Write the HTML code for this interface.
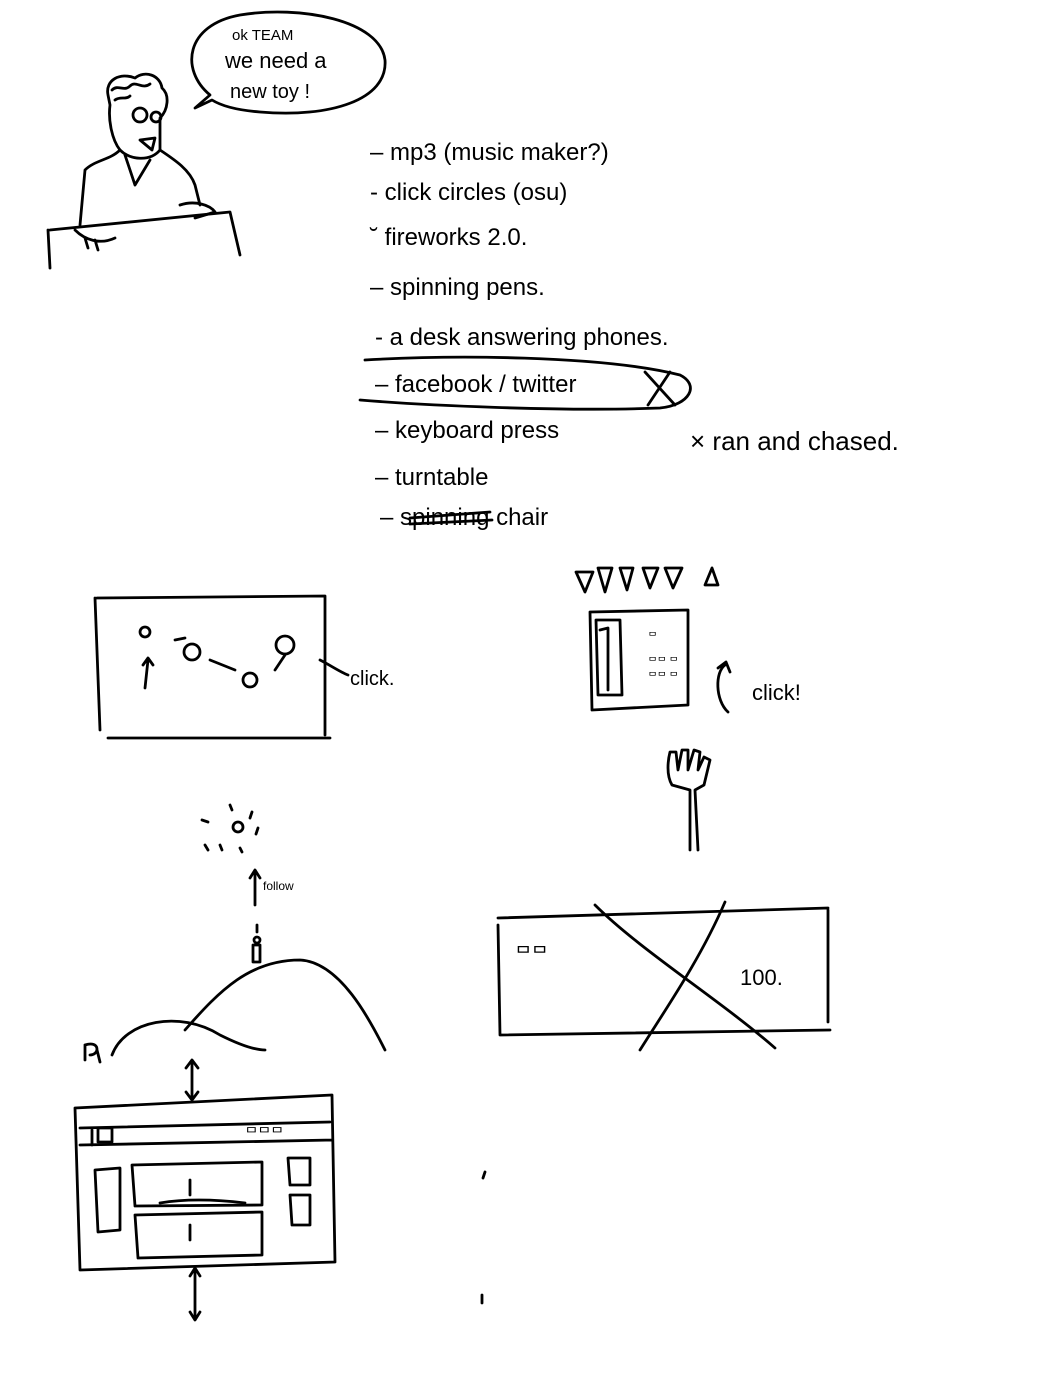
<!DOCTYPE html>
<html><head><meta charset="utf-8"><style>
html,body{margin:0;padding:0;background:#fff;}
svg{display:block}
text{font-family:"Liberation Sans",sans-serif;fill:#000;}
</style></head><body>
<svg width="1052" height="1400" viewBox="0 0 1052 1400" xmlns="http://www.w3.org/2000/svg" fill="none" stroke="#000" stroke-width="2.8" stroke-linecap="round" stroke-linejoin="round">
<!-- speech bubble -->
<path d="M210,95 C180,70 185,25 240,15 C300,5 380,20 385,60 C388,100 330,118 260,112 C235,110 220,105 212,100 L195,108 Z"/>
<text x="232" y="40" font-size="15" stroke="none">ok TEAM</text>
<text x="225" y="68" font-size="22" stroke="none">we need a</text>
<text x="230" y="98" font-size="20" stroke="none">new toy !</text>
<!-- character -->
<path d="M108,95 C105,80 120,72 135,78 C145,70 160,75 162,88 C170,95 168,110 160,118 L160,150 C150,162 130,160 120,150 C112,140 108,120 110,105 Z"/>
<path d="M112,90 C118,84 124,92 130,86 C136,80 142,90 150,84 M115,100 C120,96 126,100 130,96"/>
<circle cx="140" cy="115" r="7"/><circle cx="156" cy="117" r="5"/>
<path d="M140,140 L155,138 L152,150 Z"/>
<path d="M120,150 C110,160 95,160 85,170 L80,225"/>
<path d="M160,150 C175,160 190,170 195,185 L200,205"/>
<path d="M125,155 L135,185 L150,160"/>
<path d="M50,230 L230,212 L240,255"/>
<path d="M48,230 L50,268"/>
<path d="M180,205 C195,200 210,205 215,212 L195,218"/>
<path d="M75,230 C85,240 100,245 115,238 M85,238 L88,248 M95,240 L98,250"/>
<!-- list -->
<g stroke="none" font-size="24">
<text x="370" y="160">– mp3 (music maker?)</text>
<text x="370" y="200">- click circles (osu)</text>
<text x="370" y="245">˘ fireworks 2.0.</text>
<text x="370" y="295">– spinning pens.</text>
<text x="375" y="345">- a desk answering phones.</text>
<text x="375" y="392">– facebook / twitter</text>
<text x="375" y="438">– keyboard press</text>
<text x="375" y="485">– turntable</text>
<text x="380" y="525">–        spinning chair</text>
<text x="690" y="450" font-size="26">× ran and chased.</text>
</g>
<path d="M645,372 L675,405 M670,372 L648,405"/>
<path d="M410,518 L490,512 M410,524 L492,520"/>
<path d="M365,360 C450,355 600,355 680,375 C700,385 690,405 660,408 C560,412 420,405 360,400"/>
<!-- box 1 -->
<path d="M97,598 L325,596 L325,735 M95,598 L100,730 M108,738 L330,738"/>
<circle cx="145" cy="632" r="5"/><circle cx="192" cy="652" r="8"/><circle cx="250" cy="680" r="7"/><circle cx="285" cy="645" r="9"/>
<path d="M145,688 L148,660 M143,665 L148,658 L153,665 M175,640 L185,638 M210,660 L235,670 M275,670 L285,655"/>
<path d="M320,660 C330,665 340,672 348,675"/>
<text x="350" y="685" font-size="20" stroke="none">click.</text>
<!-- triangles -->
<path d="M576,572 L593,572 L585,592 Z M598,568 L612,568 L605,592 Z M620,568 L633,568 L627,590 Z M643,568 L658,568 L650,588 Z M665,568 L682,568 L673,588 Z M705,585 L718,585 L712,568 Z"/>
<!-- phone -->
<path d="M590,612 L688,610 L688,705 L592,710 Z M596,620 L620,620 L622,695 L598,695 Z"/>
<path d="M600,630 L608,628 L608,690"/>
<text x="648" y="640" font-size="10" stroke="none">ᄆ</text>
<text x="648" y="665" font-size="10" stroke="none">ᄆᄆ ᄆ</text>
<text x="648" y="680" font-size="10" stroke="none">ᄆᄆ ᄆ</text>
<path d="M725,665 C715,672 715,700 728,712 M718,668 L726,662 L730,672"/>
<text x="752" y="700" font-size="22" stroke="none">click!</text>
<!-- hand -->
<path d="M690,850 L690,790 L672,785 C666,775 668,760 670,752 L676,752 L678,770 L682,750 L688,750 L688,770 L694,750 L700,752 L698,770 L704,757 L710,760 L704,785 L695,790 L698,850"/>
<!-- sun + arrow -->
<circle cx="238" cy="827" r="5"/>
<path d="M230,805 L232,810 M252,812 L250,818 M258,828 L256,834 M202,820 L208,822 M205,845 L208,850 M220,845 L222,850 M240,848 L242,852"/>
<path d="M255,905 L255,870 M250,878 L255,870 L260,878"/>
<text x="263" y="890" font-size="12" stroke="none">follow</text>
<circle cx="257" cy="940" r="3"/><path d="M253,945 L253,962 L260,962 L260,945 Z M257,925 L257,932"/>
<!-- hills -->
<path d="M112,1055 C125,1020 180,1010 220,1035 C240,1045 255,1050 265,1050"/>
<path d="M185,1030 C220,990 250,960 300,960 C340,962 370,1020 385,1050"/>
<path d="M85,1045 L85,1060 M85,1045 C100,1040 100,1055 90,1055 M97,1050 L100,1062"/>
<!-- X box -->
<path d="M498,918 L828,908 M498,925 L500,1035 L830,1030 M828,910 L828,1022"/>
<path d="M595,905 C640,950 720,1000 775,1048 M725,902 C700,960 665,1010 640,1050"/>
<text x="515" y="960" font-size="18" stroke="none">ᄆᄆ</text>
<text x="740" y="985" font-size="22" stroke="none">100.</text>
<!-- web layout -->
<path d="M192,1060 L192,1100 M186,1068 L192,1060 L198,1068 M186,1092 L192,1100 L198,1092"/>
<path d="M75,1108 L332,1095 L335,1262 L80,1270 Z M80,1145 L332,1140 M80,1128 L330,1122"/>
<path d="M92,1130 L92,1145 M98,1128 L112,1128 L112,1142 L98,1142 Z"/>
<text x="245" y="1138" font-size="14" stroke="none">ᄆᄆᄆ</text>
<path d="M95,1170 L120,1168 L120,1230 L98,1232 Z M288,1158 L310,1158 L310,1185 L290,1185 Z M290,1195 L310,1195 L310,1225 L292,1225 Z"/>
<path d="M132,1165 L262,1162 L262,1205 L135,1206 Z M135,1215 L262,1212 L262,1255 L138,1258 Z"/>
<path d="M190,1180 L190,1195 M190,1225 L190,1240 M160,1203 C190,1198 220,1200 245,1203"/>
<path d="M195,1268 L195,1320 M190,1276 L195,1268 L200,1276 M190,1312 L195,1320 L200,1312"/>
<path d="M485,1172 L483,1178 M482,1295 L482,1303"/>
</svg>
</body></html>
